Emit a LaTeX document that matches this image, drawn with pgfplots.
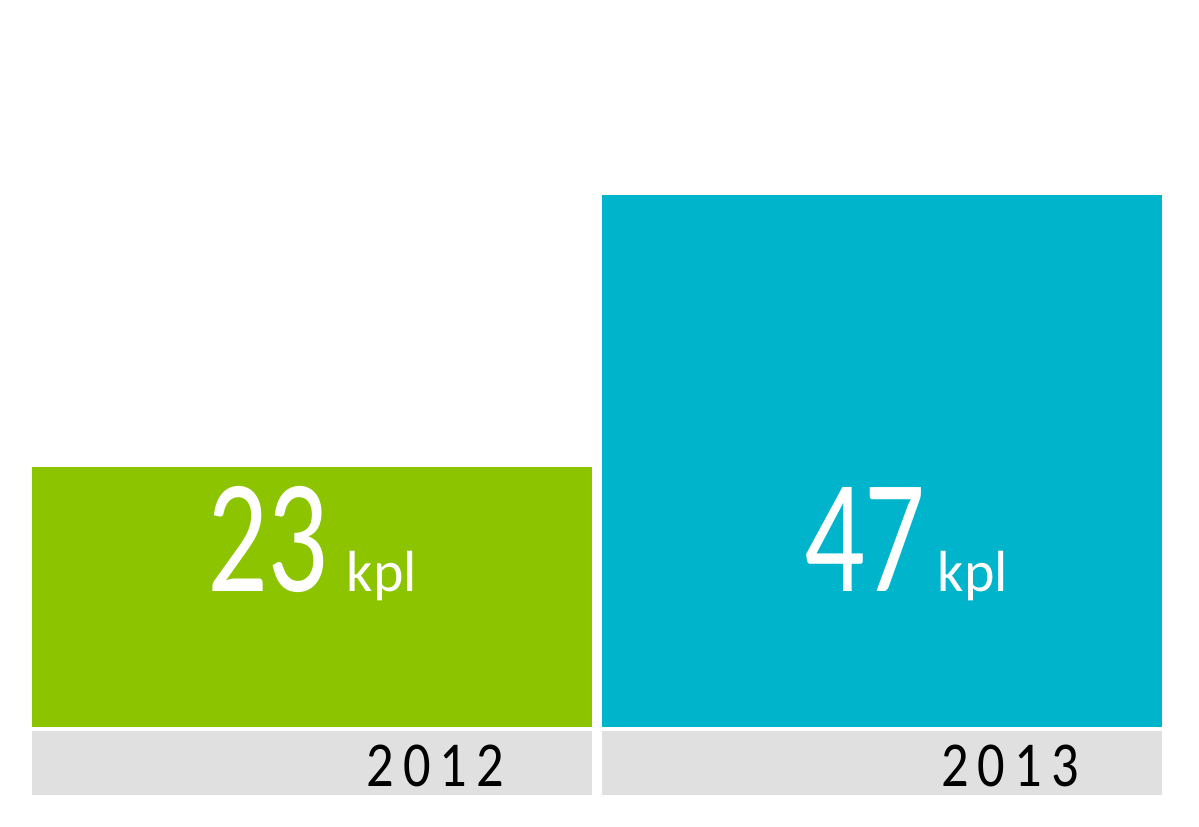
\documentclass[border=0pt]{standalone}
\usepackage{pgfplots}
\pgfplotsset{compat=1.18}
\usepackage{fontspec}
\setmainfont{Carlito}
\usepackage{graphicx}
\definecolor{bargreen}{HTML}{8DC400}
\definecolor{barblue}{HTML}{00B4CC}
\definecolor{bandgray}{HTML}{E0E0E0}
\newcommand{\yr}[4]{\scalebox{0.85}[1]{#1}\hspace{4.5pt}\scalebox{0.85}[1]{#2}\hspace{4.5pt}\scalebox{0.85}[1]{#3}\hspace{4.5pt}\scalebox{0.85}[1]{#4}}
\begin{document}
\begin{tikzpicture}
\begin{axis}[
  scale only axis, width=599.5pt, height=413.5pt,
  xmin=0.4526, xmax=2.5561, ymin=-8.842, ymax=64.28,
  hide axis, ybar, bar shift=0pt, bar width=0.9825,
  clip=false,
]
\path (rel axis cs:0,0) rectangle (rel axis cs:1,1);
% gray bands under the bars
\fill[bandgray] (axis cs:0.5088,-0.354) rectangle (axis cs:1.4912,-6.01);
\fill[bandgray] (axis cs:1.5088,-0.354) rectangle (axis cs:2.4912,-6.01);
\addplot[fill=bargreen, draw=none] coordinates {(1,23)};
\addplot[fill=barblue, draw=none] coordinates {(2,47)};
\node[anchor=base, text=white, inner sep=0pt] at (axis cs:1.0,11.94)
  {\scalebox{0.74}[1]{\fontsize{81}{81}\selectfont 23}\hspace{9pt}{\fontsize{29}{29}\selectfont kpl}};
\node[anchor=base, text=white, inner sep=0pt] at (axis cs:2.042,11.94)
  {\scalebox{0.74}[1]{\fontsize{81}{81}\selectfont 47}\hspace{6pt}{\fontsize{29}{29}\selectfont kpl}};
\node[anchor=base, text=black, inner sep=0pt] at (axis cs:1.216,-5.305)
  {\fontsize{32}{32}\selectfont \yr2012};
\node[anchor=base, text=black, inner sep=0pt] at (axis cs:2.2246,-5.305)
  {\fontsize{32}{32}\selectfont \yr2013};
\end{axis}
\end{tikzpicture}
\end{document}
